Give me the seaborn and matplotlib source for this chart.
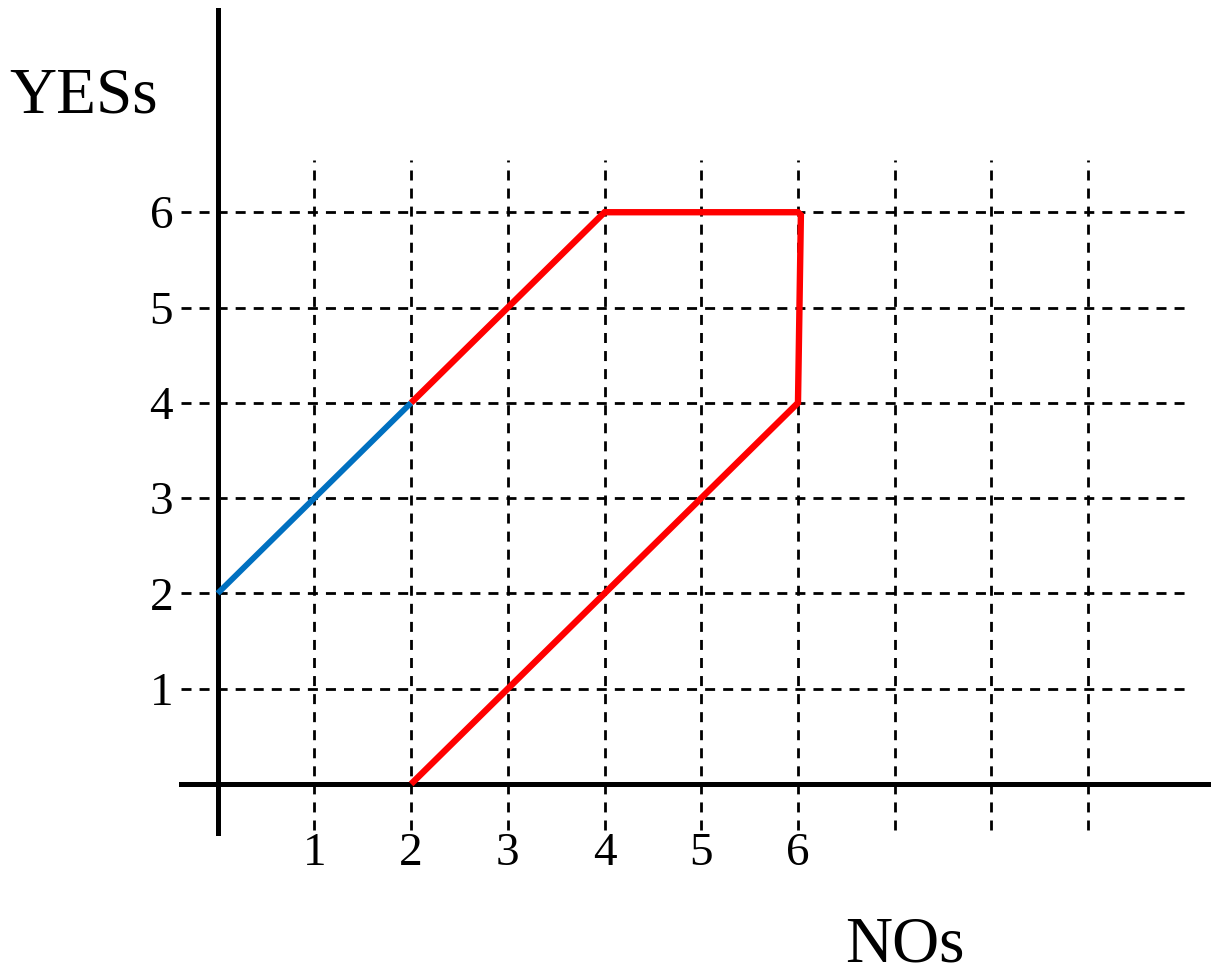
import matplotlib
matplotlib.use("Agg")
import matplotlib.pyplot as plt
from matplotlib import font_manager
import seaborn as sns
import pandas as pd

sns.set_theme(style="white")

# pick a Times-like serif that is really installed
serif = 'DejaVu Serif'
for name in ['Liberation Serif', 'Times New Roman', 'Nimbus Roman', 'Tinos', 'Noto Serif']:
    try:
        font_manager.findfont(font_manager.FontProperties(family=name), fallback_to_default=False)
        serif = name
        break
    except ValueError:
        pass
plt.rcParams['font.family'] = [serif, 'DejaVu Serif']

# data
blue_nos = [0, 2]
blue_yess = [2, 4]
red_nos = [2, 4, 6, 6.03, 6, 2]
red_yess = [4, 6, 6, 5.97, 4, 0]
x_ticks = [1, 2, 3, 4, 5, 6]
y_ticks = [1, 2, 3, 4, 5, 6]
x_grid = [1, 2, 3, 4, 5, 6, 7, 8, 9]
y_grid = [1, 2, 3, 4, 5, 6]

blue_df = pd.DataFrame({'NOs': blue_nos, 'YESs': blue_yess})
red_df = pd.DataFrame({'NOs': red_nos, 'YESs': red_yess})

fig = plt.figure(figsize=(12.11, 9.73), dpi=100)
ax = fig.add_axes([0, 0, 1, 1])

# dashed grid
dash = (0, (3.6, 2.9))
ax.vlines(x_grid, -0.48, 6.55, colors='black', linewidth=2, linestyles=dash, zorder=1)
ax.hlines(y_grid, -0.38, 10.0, colors='black', linewidth=2, linestyles=dash, zorder=1)

sns.lineplot(data=blue_df, x='NOs', y='YESs', sort=False, estimator=None,
             color='#0070C0', linewidth=4.2, ax=ax, zorder=3,
             solid_capstyle='butt')
sns.lineplot(data=red_df, x='NOs', y='YESs', sort=False, estimator=None,
             color='#FF0000', linewidth=4.6, ax=ax, zorder=3,
             solid_capstyle='butt', solid_joinstyle='miter')

ax.set_xlim(-2.25, 10.27)
ax.set_ylim(-1.983, 8.227)

# axes crossing at origin
for side in ['top', 'right']:
    ax.spines[side].set_visible(False)
ax.spines['left'].set_position(('data', 0))
ax.spines['bottom'].set_position(('data', 0))
ax.spines['left'].set_bounds(-0.51, 8.12)
ax.spines['bottom'].set_bounds(-0.38, 10.28)
for side in ['left', 'bottom']:
    ax.spines[side].set_linewidth(3.6)
    ax.spines[side].set_color('black')
    ax.spines[side].set_zorder(2)

ax.set_xticks(x_ticks)
ax.set_yticks(y_ticks)
ax.set_xticklabels([str(t) for t in x_ticks])
ax.set_yticklabels([str(t) for t in y_ticks])
ax.tick_params(axis='x', length=0, pad=35, labelsize=34, labelcolor='black')
ax.tick_params(axis='y', length=0, pad=32, labelsize=34, labelcolor='black')
ax.set_xlabel('')
ax.set_ylabel('')

ax.text(-1.387, 7.05, 'YESs', fontsize=47, ha='center', va='baseline', color='black')
ax.text(7.11, -1.86, 'NOs', fontsize=47, ha='center', va='baseline', color='black')

fig.savefig('out.png', dpi=100, facecolor='white')
